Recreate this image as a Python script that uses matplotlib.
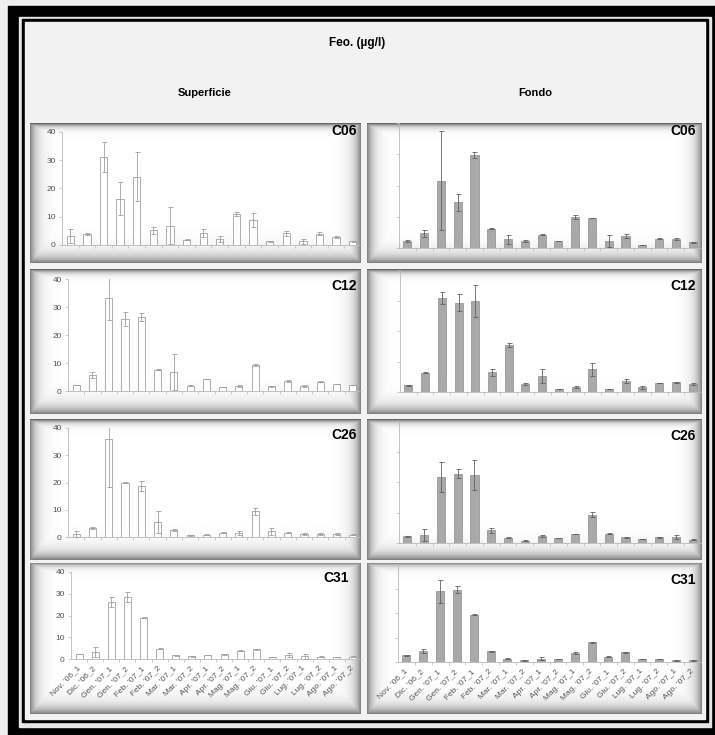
import numpy as np
import matplotlib
matplotlib.use("Agg")
import matplotlib.pyplot as plt
from matplotlib.patches import Rectangle

plt.rcParams['font.family'] = ['Liberation Sans', 'DejaVu Sans']

labels = ["Nov. '06_1", "Dic. '06_2", "Gen. '07_1", "Gen. '07_2", "Feb. '07_1",
          "Feb. '07_2", "Mar. '07_1", "Mar. '07_2", "Apr. '07_1", "Apr. '07_2",
          "Mag. '07_1", "Mag. '07_2", "Giu. '07_1", "Giu. '07_2", "Lug. '07_1",
          "Lug. '07_2", "Ago. '07_1", "Ago. '07_2"]
stations = ["C06", "C12", "C26", "C31"]

# Surface (Superficie) means and standard deviations
sup_c06 = [3.2, 3.8, 31.1, 16.4, 24.1, 5.2, 6.9, 1.9, 4.1, 2.1, 11.0, 9.0, 1.3, 4.1, 1.3, 4.0, 2.8, 1.3]
sup_c06_err = [2.4, 0.4, 5.3, 5.8, 8.7, 1.3, 6.4, 0.3, 1.4, 1.0, 0.6, 2.5, 0.2, 0.9, 0.8, 0.5, 0.4, 0.2]
sup_c12 = [2.1, 5.7, 33.3, 25.8, 26.4, 7.6, 6.8, 1.9, 4.3, 1.5, 1.7, 9.3, 1.7, 3.6, 1.7, 3.3, 2.5, 2.1]
sup_c12_err = [0.1, 1.0, 8.0, 2.5, 1.5, 0.1, 6.4, 0.2, 0.1, 0.1, 0.4, 0.5, 0.1, 0.3, 0.4, 0.2, 0.1, 0.1]
sup_c26 = [1.1, 3.3, 36.1, 20.0, 18.7, 5.5, 2.6, 0.6, 0.9, 1.6, 1.5, 9.4, 2.1, 1.6, 1.1, 1.1, 1.1, 0.9]
sup_c26_err = [1.0, 0.5, 17.6, 0.2, 2.0, 3.9, 0.3, 0.1, 0.1, 0.1, 0.7, 1.3, 1.2, 0.2, 0.2, 0.2, 0.4, 0.1]
sup_c31 = [2.3, 3.0, 26.3, 28.6, 19.0, 4.7, 1.7, 1.2, 1.8, 2.1, 3.8, 4.4, 0.9, 1.7, 1.2, 1.1, 0.9, 1.1]
sup_c31_err = [0.1, 2.3, 2.3, 2.3, 0.3, 0.2, 0.1, 0.1, 0.1, 0.1, 0.2, 0.2, 0.1, 1.0, 1.1, 0.1, 0.1, 0.1]

# Bottom (Fondo) means and standard deviations
fon_c06 = [2.2, 4.7, 21.6, 14.6, 29.7, 6.2, 2.8, 2.2, 4.3, 2.2, 9.9, 9.6, 2.3, 3.9, 1.0, 3.0, 3.0, 1.8]
fon_c06_err = [0.3, 1.2, 15.8, 2.8, 0.9, 0.1, 1.5, 0.3, 0.2, 0.1, 0.6, 0.1, 2.0, 0.7, 0.1, 0.1, 0.3, 0.1]
fon_c12 = [2.2, 6.3, 30.7, 29.3, 29.9, 6.5, 15.4, 2.6, 5.4, 1.0, 1.6, 7.4, 1.0, 3.5, 1.5, 3.0, 3.2, 2.7]
fon_c12_err = [0.2, 0.1, 2.0, 2.9, 5.3, 1.2, 0.8, 0.2, 2.3, 0.1, 0.4, 2.1, 0.1, 0.6, 0.6, 0.1, 0.2, 0.3]
fon_c26 = [2.2, 2.6, 21.6, 22.7, 22.2, 4.1, 1.8, 0.8, 2.2, 1.6, 2.9, 9.3, 3.1, 1.9, 1.3, 1.9, 1.9, 1.1]
fon_c26_err = [0.2, 2.1, 5.0, 1.4, 4.9, 0.8, 0.1, 0.1, 0.3, 0.1, 0.1, 0.8, 0.2, 0.1, 0.1, 0.1, 0.6, 0.1]
fon_c31 = [2.7, 4.4, 28.8, 29.5, 19.3, 4.4, 1.4, 0.7, 1.4, 1.2, 3.7, 8.0, 2.2, 3.9, 1.2, 1.2, 0.7, 0.7]
fon_c31_err = [0.1, 0.9, 4.8, 1.4, 0.3, 0.2, 0.1, 0.1, 0.6, 0.1, 0.3, 0.1, 0.1, 0.1, 0.1, 0.1, 0.1, 0.1]

sup_vals = [sup_c06, sup_c12, sup_c26, sup_c31]
sup_errs = [sup_c06_err, sup_c12_err, sup_c26_err, sup_c31_err]
fon_vals = [fon_c06, fon_c12, fon_c26, fon_c31]
fon_errs = [fon_c06_err, fon_c12_err, fon_c26_err, fon_c31_err]

W, H = 715, 735
fig = plt.figure(figsize=(W / 100, H / 100), dpi=100)
fig.patch.set_facecolor('#efefef')


def frac(x0, y0, x1, y1):
    return [x0 / W, 1 - y1 / H, (x1 - x0) / W, (y1 - y0) / H]


# Page frame: thick outer border, thin inner border
frame = fig.add_axes([0, 0, 1, 1], zorder=-5)
frame.set_xlim(0, W)
frame.set_ylim(H, 0)
frame.axis('off')
frame.add_patch(Rectangle((8, 6), W, H, color='black'))
frame.add_patch(Rectangle((19, 17), 692, 710, color='#e6e6e6'))
frame.add_patch(Rectangle((22, 19), 686, 703, color='black'))
frame.add_patch(Rectangle((25, 22), 680, 697, color='#f2f2f2'))

fig.text(357 / W, 1 - 43 / H, "Feo. (µg/l)", ha='center', va='center',
         fontsize=8.5, fontweight='bold')
fig.text(205 / W, 1 - 93 / H, "Superficie", ha='center', va='center',
         fontsize=8, fontweight='bold')
fig.text(535 / W, 1 - 93 / H, "Fondo", ha='center', va='center',
         fontsize=8, fontweight='bold')

# Panel boxes (pixels): column x-extents and row y-extents
col_x = [(30, 360), (367, 702)]
row_y = [(123, 263), (269, 414), (419, 560), (563, 714)]

# Plot areas (pixels): x of the value axis, y of 40 and of 0
plot_left = [[62, 68, 68, 71], [399, 400, 399, 398]]
plot_top = [[132, 279, 428, 572], [123, 270, 421, 564]]
plot_bot = [[245, 391, 537, 659], [248, 392, 543, 662]]
plot_right = [361, 701]
label_pos = [[(357, 131), (357, 286), (357, 435), (349, 578)],
             [(696, 131), (696, 286), (696, 436), (696, 580)]]


def panel_background(x0, y0, x1, y1):
    ax = fig.add_axes(frac(x0, y0, x1, y1), zorder=0)
    w, h = x1 - x0, y1 - y0
    yy, xx = np.mgrid[0:h, 0:w].astype(float)
    d_top = yy
    d_bot = h - 1 - yy
    d_left = xx
    d_right = w - 1 - xx
    dark = np.maximum.reduce([
        0.60 * np.exp(-d_top / 3.0),
        0.50 * np.exp(-d_bot / 7.0),
        0.48 * np.exp(-d_left / 6.0),
        0.48 * np.exp(-d_right / 6.0),
    ])
    ax.imshow(1 - dark, cmap='gray', vmin=0, vmax=1, aspect='auto',
              interpolation='bilinear', extent=[0, 1, 0, 1])
    ax.axis('off')


x = np.arange(len(labels))
axis_col = '#b8b8b8'

for c in range(2):
    for r in range(4):
        px0, px1 = col_x[c]
        py0, py1 = row_y[r]
        panel_background(px0, py0, px1, py1)

        ax = fig.add_axes(frac(plot_left[c][r], plot_top[c][r],
                               plot_right[c], plot_bot[c][r]), zorder=1)
        ax.patch.set_alpha(0)
        if c == 0:
            vals, errs = sup_vals[r], sup_errs[r]
            ax.bar(x, vals, width=0.44, color='white', edgecolor='#a0a0a0',
                   linewidth=0.6, zorder=2)
            ax.errorbar(x, vals, yerr=errs, fmt='none', ecolor='#a0a0a0',
                        elinewidth=0.6, capsize=1.8, capthick=0.6, zorder=3)
        else:
            vals, errs = fon_vals[r], fon_errs[r]
            ax.bar(x, vals, width=0.48, color='#a9a9a9', edgecolor='#8c8c8c',
                   linewidth=0.5, zorder=2)
            ax.errorbar(x, vals, yerr=errs, fmt='none', ecolor='#606060',
                        elinewidth=0.6, capsize=1.8, capthick=0.6, zorder=3)

        ax.set_xlim(-0.5, len(labels) - 0.5)
        ax.set_ylim(0, 40)
        for s in ('top', 'right'):
            ax.spines[s].set_visible(False)
        for s in ('left', 'bottom'):
            ax.spines[s].set_color(axis_col)
            ax.spines[s].set_linewidth(0.6)

        ax.set_yticks([0, 10, 20, 30, 40])
        ax.tick_params(axis='y', length=2.5, width=0.5, color=axis_col,
                       labelsize=6, labelcolor='#555555', pad=2)
        if c == 1:
            ax.set_yticklabels([])

        ax.set_xticks(x)
        ax.set_xticks(x[:-1] + 0.5, minor=True)
        ax.tick_params(axis='x', which='major', length=0)
        ax.tick_params(axis='x', which='minor', length=2.5, width=0.5,
                       color=axis_col)
        if r == 3:
            ax.set_xticklabels(labels, rotation=45, ha='right', va='center',
                               rotation_mode='anchor', fontsize=6,
                               color='#555555')
            ax.tick_params(axis='x', which='major', pad=6)
        else:
            ax.set_xticklabels([])

        lx, ly = label_pos[c][r]
        fig.text(lx / W, 1 - ly / H, stations[r], ha='right', va='center',
                 fontsize=10, fontweight='bold', zorder=5)

fig.savefig('out.png', dpi=100, facecolor=fig.get_facecolor())
